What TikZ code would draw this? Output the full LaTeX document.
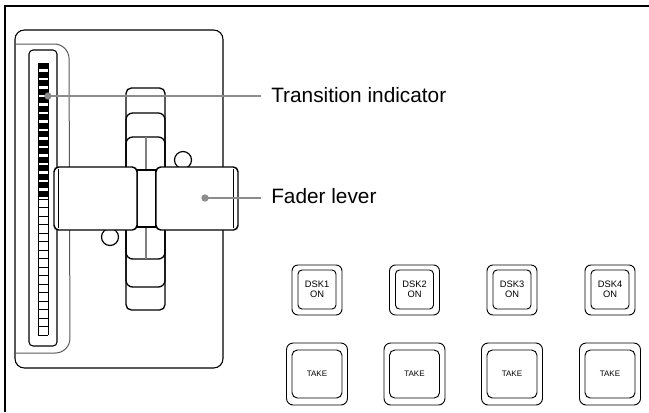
\documentclass[tikz,border=0pt]{standalone}
\usepackage{fontspec}
\setmainfont{Liberation Sans}
\begin{document}
\begin{tikzpicture}[x=0.75pt,y=-0.75pt,
  frameline/.style={line width=1.6pt,black},
  edge/.style={draw=black,line width=0.8pt},
  softedge/.style={draw=black!65,line width=0.75pt},
  leverline/.style={draw=black,line width=1.1pt,fill=white},
  centreline/.style={draw=black!50,line width=1pt},
  leader/.style={draw=black!45,line width=1.3pt},
  leaderdot/.style={fill=black!45,draw=none,circle,minimum size=5.5pt,inner sep=0pt},
  callout/.style={font=\fontsize{15.6}{18}\selectfont,inner xsep=7.5pt,inner ysep=0pt},
  keyout/.style={draw=black,line width=0.7pt,rounded corners=4.5pt,minimum width=37.5pt,minimum height=37.5pt,inner sep=0pt},
  keyin/.style={draw=black,line width=0.7pt,rounded corners=3pt,minimum width=28.5pt,minimum height=29.25pt,inner sep=0pt,align=center,font=\fontsize{7}{7.5}\selectfont},
  takeout/.style={draw=black,line width=0.7pt,rounded corners=5pt,minimum width=45.75pt,minimum height=46.5pt,inner sep=0pt},
  takein/.style={draw=black,line width=0.7pt,rounded corners=4pt,minimum width=37.5pt,minimum height=36pt,inner sep=0pt,font=\fontsize{6}{7}\selectfont}]
\useasboundingbox (0,0) rectangle (649,412);

% outer frame (top and left rules)
\draw[frameline] (5,412) -- (5,6) -- (649,6);

% fader panel
\draw[edge,rounded corners=7pt] (15,30) rectangle (223,368);
% raised strip holding the indicator
\draw[softedge,rounded corners=11pt] (15,44) -- (69,44) -- (70,353) -- (15,353);
% indicator well
\draw[edge,rounded corners=3pt] (29,50) rectangle (57,346);

% indicator segments: 32 cells, upper 16 lit
\draw[edge,line width=0.7pt] (38,63) -- (38,335) (48,63) -- (48,335);
\foreach \i in {0,...,15} {
  \fill[black] (38,63+8.5*\i) rectangle (48,63+8.5*\i+6.3);
}
\foreach \i in {16,...,32} {
  \draw[black,line width=0.7pt] (38,63+8.5*\i) -- (48,63+8.5*\i);
}

% fader track and slider guide pieces
\draw[edge,line width=1pt,rounded corners=4pt] (126,88) rectangle (165,310);
\draw[edge,line width=1pt,rounded corners=5pt] (126,113) rectangle (165,287);
\draw[edge,line width=1pt,rounded corners=5pt] (126,137) rectangle (165,259);
\draw[centreline] (146,137) -- (146,259);

% mounting holes
\draw[edge,line width=0.9pt] (183,160) circle [radius=8.5];
\draw[edge,line width=0.9pt] (110,237) circle [radius=8.5];

% fader lever
\draw[leverline] (137,170) rectangle (156,227);
\draw[leverline,rounded corners=3.5pt] (54,167) rectangle (137,230);
\draw[edge,line width=0.7pt] (58.5,169) -- (58.5,228);
\draw[leverline,rounded corners=3.5pt] (156,167) rectangle (238,230);
\draw[edge,line width=0.7pt] (233.5,169) -- (233.5,228);

% callouts
\node[leaderdot] (tidot) at (48,96) {};
\node[callout,anchor=base west] (titext) at (261,102) {Transition indicator};
\draw[leader] (tidot.center) -- (tidot.center -| titext.west);

\node[leaderdot] (fldot) at (205,198) {};
\node[callout,anchor=base west] (fltext) at (261,203) {Fader lever};
\draw[leader] (fldot.center) -- (fldot.center -| fltext.west);

% keyer and take buttons
\foreach \cx/\n in {317/1,414.5/2,512/3,610/4} {
  \node[keyout] (dsk\n) at (\cx,290) {};
  \node[keyin] (dsk\n label) at (\cx,289.5) {DSK\n\\ON};
  \node[takeout] (take\n) at (\cx,374) {};
  \node[takein] (take\n label) at (\cx,374) {TAKE};
}
\end{tikzpicture}
\end{document}
